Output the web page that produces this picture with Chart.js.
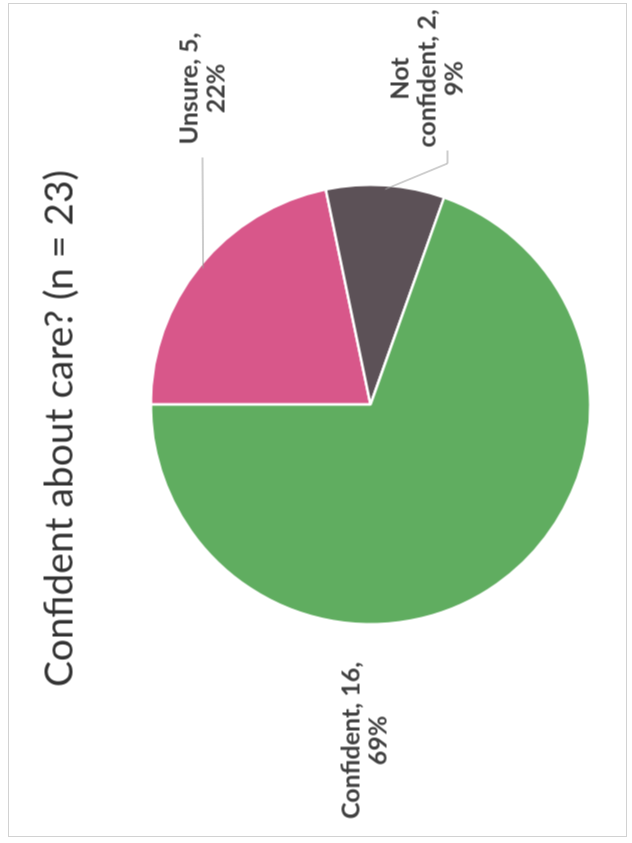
<!DOCTYPE html>
<html><head><meta charset="utf-8">
<script src="https://cdn.jsdelivr.net/npm/chart.js@4/dist/chart.umd.min.js"></script>
<style>
html,body{margin:0;padding:0;background:#fff;width:632px;height:843px;overflow:hidden;}
#frame{position:absolute;left:8px;top:3px;width:619px;height:834px;border:1.5px solid #d2d2d2;box-sizing:border-box;}
#wrap{position:absolute;left:-105.5px;top:105.5px;width:843px;height:632px;transform:rotate(-90deg);transform-origin:50% 50%;}
canvas{display:block}
</style></head><body>
<div id="frame"></div>
<div id="wrap"><canvas id="c" width="843" height="632"></canvas></div>
<script>
// ---- data ----
const titleText = 'Confident about care? (n = 23)';
const categories = ['Unsure', 'Not confident', 'Confident'];
const counts = [5, 2, 16];
const percentLabels = ['22%', '9%', '69%'];
const labelLines = [
  ['Unsure, 5,', '22%'],
  ['Not', 'confident, 2,', '9%'],
  ['Confident, 16,', '69%']
];
const sliceColors = ['#d8578a', '#5c5157', '#60ad60'];

// label block centres and leader ends, relative to pie centre (unrotated frame)
const labelPlacement = [
  {dx: 316, dy: -168, leader: [[247, -168]]},
  {dx: 326, dy: 57, leader: [[241, 77], [254, 77]]},
  {dx: -336, dy: -6, leader: null}
];

const labelPlugin = {
  id: 'pieLabels',
  afterDatasetsDraw(chart) {
    const ctx = chart.ctx;
    const meta = chart.getDatasetMeta(0);
    ctx.save();
    meta.data.forEach((arc, i) => {
      const p = arc.getProps(['x', 'y', 'startAngle', 'endAngle', 'outerRadius'], true);
      const mid = (p.startAngle + p.endAngle) / 2;
      const pl = labelPlacement[i];
      if (pl.leader) {
        ctx.beginPath();
        ctx.strokeStyle = '#9a9a9a';
        ctx.lineWidth = 1;
        ctx.moveTo(p.x + Math.cos(mid) * (p.outerRadius - 4), p.y + Math.sin(mid) * (p.outerRadius - 4));
        pl.leader.forEach(pt => ctx.lineTo(p.x + pt[0], p.y + pt[1]));
        ctx.stroke();
      }
      ctx.fillStyle = '#404040';
      ctx.font = 'bold 25px Lato';
      ctx.textAlign = 'center';
      ctx.textBaseline = 'middle';
      const lines = labelLines[i];
      const lh = 27;
      const cx = p.x + pl.dx, cy = p.y + pl.dy;
      lines.forEach((t, k) => {
        ctx.fillText(t, cx, cy + (k - (lines.length - 1) / 2) * lh);
      });
    });
    // title
    ctx.fillStyle = '#333333';
    ctx.font = '39px Lato';
    ctx.textAlign = 'center';
    ctx.textBaseline = 'alphabetic';
    ctx.fillText(titleText, 415, 72);
    ctx.restore();
  }
};

new Chart(document.getElementById('c'), {
  type: 'pie',
  data: {
    labels: categories,
    datasets: [{
      data: counts,
      backgroundColor: sliceColors,
      borderColor: '#ffffff',
      borderWidth: 2.5
    }]
  },
  options: {
    responsive: false,
    animation: false,
    devicePixelRatio: 1,
    layout: {padding: {left: 218, right: 183, top: 149, bottom: 41}},
    plugins: {legend: {display: false}, tooltip: {enabled: false}, title: {display: false}}
  },
  plugins: [labelPlugin]
});
</script>
</body></html>
